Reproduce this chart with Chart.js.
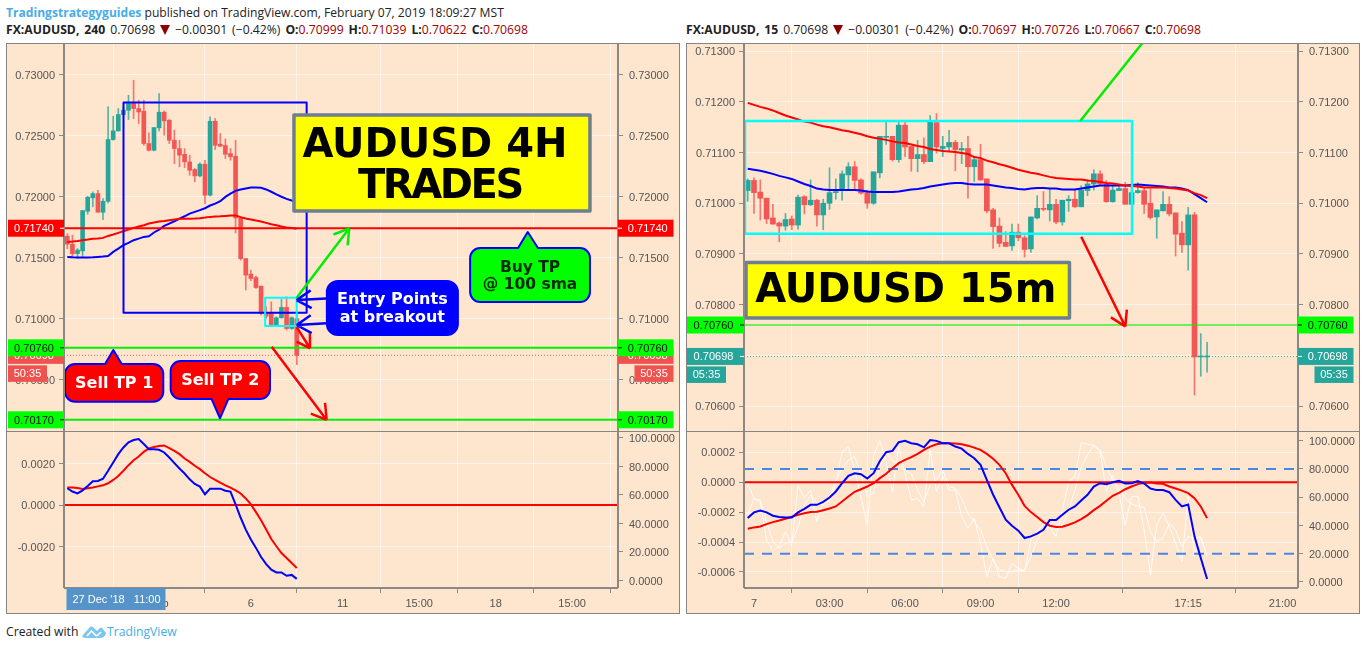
<!DOCTYPE html>
<html>
<head>
<meta charset="utf-8">
<title>AUDUSD trades</title>
<script src="https://cdn.jsdelivr.net/npm/chart.js@4/dist/chart.umd.min.js"></script>
<style>
  html, body { margin: 0; padding: 0; background: #fff; overflow: hidden; }
  body { width: 1366px; height: 650px; position: relative; font-family: 'Open Sans', sans-serif; font-size: 12px; color: #222; }
  .line { position: absolute; white-space: nowrap; height: 16px; line-height: 16px; }
  .quote { font-size: 12.2px; word-spacing: 1.8px; }
  .panel { position: absolute; top: 43px; width: 672px; height: 569px; background: #fde5ce; border: 1px solid #858585; }
  .split { position: absolute; left: 0; top: 387px; width: 672px; height: 1px; background: #858585; }
  canvas { position: absolute; left: 0; }
  .up { color: #a00000; }
  .tri { display: inline-block; width: 0; height: 0; border-left: 5.5px solid transparent; border-right: 5.5px solid transparent; border-top: 10px solid #8b0000; vertical-align: -1px; }
  b { font-weight: 700; }
  .brand { color: #48ade6; }
</style>
</head>
<body>
<div class="line" style="left:6px;top:5px;font-size:12.1px"><b class="brand">Tradingstrategyguides</b> published on TradingView.com, February 07, 2019 18:09:27 MST</div>
<div class="line quote" style="left:6px;top:22px"><b>FX:AUDUSD, 240</b>&nbsp;0.70698 <span class="tri"></span> −0.00301 (−0.42%) <b>O:</b><span class="up">0.70999</span> <b>H:</b><span class="up">0.71039</span> <b>L:</b><span class="up">0.70622</span> <b>C:</b><span class="up">0.70698</span></div>
<div class="line quote" style="left:686px;top:22px"><b>FX:AUDUSD, 15</b>&nbsp;0.70698 <span class="tri"></span> −0.00301 (−0.42%) <b>O:</b><span class="up">0.70697</span> <b>H:</b><span class="up">0.70726</span> <b>L:</b><span class="up">0.70667</span> <b>C:</b><span class="up">0.70698</span></div>

<div class="panel" style="left:6px">
  <canvas id="leftPrice" width="672" height="387" style="top:0"></canvas>
  <canvas id="leftOsc" width="672" height="182" style="top:387px"></canvas>
  <div class="split"></div>
</div>
<div class="panel" style="left:686px">
  <canvas id="rightPrice" width="672" height="387" style="top:0"></canvas>
  <canvas id="rightOsc" width="672" height="182" style="top:387px"></canvas>
  <div class="split"></div>
</div>

<div class="line" style="left:6px;top:624px;font-size:12.2px">Created with</div>
<svg style="position:absolute;left:82px;top:625px" width="24" height="14" viewBox="0 0 24 14">
  <path d="M0 11 L8 2 Q9.5 1 11 2 L15 6 L18 3 Q19 2 20 3 L24 8 L24 9 Q22 13 18 13 L5 13 Q1 13 0 11 Z" fill="#7cc7ee"/>
  <path d="M5 11 L9.5 6 L14 10.5 Q15 11 16 10 L19 7" fill="none" stroke="#fff" stroke-width="1.6"/>
</svg>
<div class="line brand" style="left:107px;top:624px;font-size:12.2px">TradingView</div>

<script>
const PEACH_GRID = 'rgba(255,255,255,0.55)';
const AXIS_GREY = '#8c8884';
const TICK_TEXT = '#555';
const UP = '#26a69a';
const DOWN = '#f25755';

// 4H candles
const leftOpen = [.71675,.71609,.71532,.71554,.71879,.71989,.72024,.71871,.71961,.72467,.72538,.72672,.72707,.72762,.72721,.72699,.72434,.72379,.72563,.72691,.72625,.72461,.72393,.72346,.72284,.72221,.72169,.72265,.72011,.72617,.72429,.72418,.72352,.72330,.71824,.71491,.71364,.71336,.71265,.71047,.71043,.70950,.71006,.71091,.70918,.70999];
const leftHigh = [.71696,.71683,.71573,.71885,.72002,.72038,.72051,.71983,.72735,.72658,.72721,.72735,.72830,.72953,.72789,.72789,.72521,.72565,.72844,.72702,.72631,.72543,.72461,.72393,.72339,.72229,.72276,.72297,.72653,.72639,.72516,.72472,.72393,.72461,.71830,.71491,.71396,.71347,.71265,.71096,.71136,.71014,.71158,.71178,.71014,.71039];
const leftLow = [.71573,.71506,.71492,.71506,.71855,.71915,.71871,.71811,.71948,.72461,.72535,.72666,.72631,.72639,.72598,.72420,.72373,.72373,.72538,.72502,.72434,.72270,.72243,.72237,.72175,.72120,.72161,.71942,.72002,.72385,.72412,.72311,.72297,.71702,.71478,.71233,.71310,.71246,.71030,.71000,.70950,.70936,.71001,.70905,.70910,.70622];
const leftClose = [.71609,.71532,.71561,.71885,.71994,.72024,.71871,.71961,.72467,.72538,.72672,.72707,.72762,.72721,.72693,.72434,.72379,.72565,.72691,.72620,.72461,.72393,.72339,.72284,.72215,.72169,.72265,.72011,.72617,.72420,.72412,.72346,.72325,.71824,.71491,.71356,.71328,.71254,.71043,.71019,.70950,.71006,.71091,.70918,.71006,.70698];
const leftMaBlue = [.71505,.71502,.71500,.71500,.71500,.71502,.71505,.71508,.71513,.71546,.71573,.71601,.71620,.71642,.71655,.71669,.71674,.71705,.71729,.71759,.71778,.71797,.71819,.71838,.71860,.71874,.71888,.71904,.71926,.71942,.71961,.71997,.72024,.72046,.72057,.72066,.72074,.72074,.72071,.72058,.72039,.72017,.71998,.71981,.71967,.71957];
const leftMaRed = [.71628,.71631,.71636,.71642,.71647,.71653,.71655,.71661,.71677,.71688,.71702,.71715,.71729,.71743,.71754,.71765,.71778,.71787,.71795,.71800,.71806,.71811,.71817,.71817,.71817,.71819,.71822,.71827,.71833,.71836,.71838,.71841,.71844,.71844,.71831,.71820,.71812,.71804,.71795,.71784,.71773,.71765,.71754,.71746,.71741,.71735];
const leftOscBlue = [.00081,.00065,.00056,.00071,.00092,.00115,.00116,.00127,.00165,.00205,.00245,.00277,.00302,.00313,.00318,.00294,.00269,.00269,.00266,.00253,.00229,.00202,.00176,.00152,.00124,.00102,.00089,.00052,.00079,.00079,.00079,.00069,.00065,.00003,-.00061,-.00118,-.00166,-.00206,-.00250,-.00284,-.00311,-.00324,-.00324,-.00340,-.00336,-.00355];
const leftOscRed = [.00084,.00084,.00082,.00077,.00081,.00085,.00090,.00095,.00105,.00121,.00140,.00165,.00192,.00216,.00234,.00256,.00273,.00279,.00284,.00287,.00274,.00261,.00245,.00224,.00208,.00189,.00173,.00153,.00135,.00121,.00108,.00095,.00084,.00071,.00056,.00032,.00003,-.00034,-.00073,-.00118,-.00163,-.00198,-.00231,-.00255,-.00279,-.00303];

// 15m candles
const rightOpen = [.71025,.71045,.71022,.71010,.70971,.70961,.70955,.70969,.70957,.71013,.70997,.71006,.70977,.71000,.71021,.71025,.71056,.71072,.71046,.71021,.71000,.71060,.71130,.71132,.71086,.71154,.71112,.71088,.71096,.71082,.71159,.71108,.71111,.71120,.71105,.71108,.71072,.71086,.71048,.70987,.70955,.70923,.70916,.70943,.70932,.70910,.70971,.70990,.70987,.70998,.70963,.71005,.71008,.70993,.71025,.71038,.71058,.71038,.71003,.71025,.71029,.70998,.71021,.71025,.71000,.70973,.70985,.70998,.70981,.70941,.70918,.70977,.70697,.70697];
const rightHigh = [.71048,.71050,.71046,.71010,.70998,.70963,.70980,.70975,.71016,.71015,.71046,.71008,.71008,.71070,.71048,.71064,.71080,.71082,.71048,.71026,.71062,.71132,.71160,.71132,.71160,.71160,.71112,.71124,.71129,.71173,.71177,.71132,.71144,.71124,.71120,.71132,.71091,.71116,.71048,.70990,.70971,.70944,.70959,.70959,.70936,.70973,.71015,.71023,.71028,.71008,.71006,.71015,.71026,.71035,.71046,.71066,.71064,.71045,.71035,.71035,.71041,.71038,.71041,.71030,.71028,.70987,.71023,.71013,.70981,.70964,.70992,.70982,.70743,.70726];
const rightLow = [.71004,.70980,.70967,.70960,.70959,.70924,.70947,.70948,.70949,.70979,.70995,.70955,.70948,.70988,.71008,.71006,.71025,.71026,.71018,.70990,.70998,.71050,.71116,.71083,.71081,.71092,.71063,.71062,.71078,.71082,.71099,.71092,.71103,.71064,.71078,.71010,.71043,.71045,.70981,.70911,.70914,.70914,.70907,.70926,.70894,.70903,.70969,.70985,.70965,.70960,.70957,.70984,.70992,.70993,.71015,.71026,.71035,.71002,.71002,.71025,.70998,.70998,.71020,.70980,.70969,.70931,.70985,.70975,.70896,.70903,.70868,.70622,.70659,.70667];
const rightClose = [.71045,.71021,.71010,.70969,.70959,.70955,.70968,.70957,.71012,.70997,.71006,.70977,.71000,.71021,.71023,.71058,.71072,.71045,.71020,.71000,.71062,.71132,.71132,.71086,.71154,.71111,.71088,.71096,.71082,.71161,.71111,.71112,.71120,.71106,.71108,.71072,.71086,.71046,.70985,.70954,.70921,.70915,.70943,.70932,.70909,.70973,.70990,.70988,.70998,.70963,.71006,.71008,.70993,.71026,.71038,.71058,.71038,.71003,.71026,.71029,.70998,.71021,.71025,.70998,.70972,.70987,.70998,.70979,.70939,.70918,.70977,.70697,.70699,.70698];
const rightMaRed = [.71198,.71194,.71190,.71187,.71183,.71178,.71173,.71169,.71165,.71161,.71159,.71155,.71152,.71150,.71147,.71144,.71142,.71139,.71136,.71132,.71129,.71127,.71125,.71122,.71120,.71119,.71116,.71113,.71111,.71107,.71105,.71103,.71102,.71101,.71099,.71097,.71091,.71089,.71084,.71081,.71077,.71074,.71070,.71066,.71063,.71060,.71058,.71055,.71052,.71050,.71049,.71048,.71047,.71047,.71045,.71044,.71042,.71040,.71039,.71037,.71035,.71034,.71033,.71031,.71031,.71031,.71031,.71030,.71029,.71027,.71025,.71020,.71016,.71010];
const rightMaBlue = [.71068,.71066,.71064,.71061,.71058,.71054,.71051,.71048,.71043,.71038,.71034,.71029,.71027,.71026,.71026,.71026,.71026,.71026,.71025,.71023,.71022,.71022,.71022,.71022,.71023,.71025,.71027,.71028,.71030,.71033,.71035,.71037,.71039,.71040,.71040,.71038,.71037,.71037,.71037,.71035,.71033,.71031,.71030,.71028,.71027,.71029,.71030,.71030,.71029,.71029,.71027,.71027,.71027,.71029,.71031,.71033,.71035,.71035,.71035,.71035,.71035,.71036,.71037,.71036,.71035,.71034,.71033,.71031,.71031,.71029,.71026,.71018,.71010,.71002];
const rightOscBlue = [-.000240,-.000202,-.000189,-.000202,-.000224,-.000233,-.000236,-.000236,-.000202,-.000178,-.000151,-.000151,-.000131,-.000102,-.000062,-.000007,.000042,.000060,.000053,.000024,.000060,.000142,.000200,.000209,.000267,.000276,.000260,.000253,.000233,.000282,.000276,.000260,.000260,.000238,.000224,.000189,.000160,.000116,.000016,-.000084,-.000167,-.000251,-.000291,-.000324,-.000373,-.000362,-.000344,-.000318,-.000253,-.000253,-.000218,-.000184,-.000162,-.000122,-.000084,-.000029,-.000007,-.000013,0,.000009,-.000009,-.000007,.000007,-.000009,-.000042,-.000053,-.000053,-.000067,-.000118,-.000162,-.000149,-.000362,-.000507,-.000647];
const rightOscRed = [-.000311,-.000302,-.000296,-.000280,-.000267,-.000256,-.000244,-.000231,-.000218,-.000207,-.000200,-.000198,-.000187,-.000176,-.000162,-.000129,-.000096,-.000064,-.000047,-.000029,-.000007,.000027,.000056,.000093,.000127,.000149,.000167,.000189,.000216,.000238,.000253,.000260,.000260,.000258,.000253,.000244,.000231,.000216,.000189,.000156,.000116,.000060,-.000018,-.000084,-.000158,-.000200,-.000233,-.000267,-.000291,-.000300,-.000298,-.000284,-.000269,-.000247,-.000220,-.000187,-.000158,-.000124,-.000091,-.000071,-.000047,-.000029,-.000013,-.000004,-.000002,-.000009,-.000011,-.000029,-.000042,-.000056,-.000073,-.000107,-.000162,-.000240];
const rightStochK = [70.3,59.2,56.8,29.7,22.2,25.0,35.6,26.2,68.6,59.2,65.1,42.7,56.8,56.8,69.8,92.2,95.7,79.2,60.4,40.3,89.8,100,85.1,63.9,95.7,76.9,58.0,59.2,53.3,93.4,63.9,74.5,65.1,65.1,46.2,38.0,45.0,27.4,3.8,16.7,3.8,2.6,13.2,9.7,7.3,29.7,35.6,41.5,39.1,32.1,50.9,71.0,74.5,98.6,97.6,96.9,92.2,63.9,75.7,62.7,40.3,60.4,60.8,36.8,5.0,40.3,49.0,39.1,27.4,14.4,60.4,18.4,31.6,18.4];
const rightStochD = [47.4,59.2,58.0,42.7,28.5,23.8,27.4,28.5,39.1,54.5,61.5,55.6,54.5,60.4,71.0,80.4,86.3,88.7,76.9,60.4,62.7,81.6,92.2,86.3,82.8,79.2,76.9,65.1,56.8,68.6,72.2,79.2,67.4,66.3,59.2,48.6,42.7,36.8,25.0,15.6,8.5,7.3,7.3,8.5,8.5,17.9,29.7,36.8,39.1,36.8,40.3,50.9,65.1,81.6,89.8,96.9,93.4,81.6,72.2,66.3,59.2,55.2,53.8,52.8,35.6,28.5,30.9,41.5,36.8,25.0,32.1,30.9,32.1,18.4];

// axes
const leftPriceTicks = [.73, .725, .72, .715, .71, .705];
const rightPriceTicks = [.713, .712, .711, .71, .709, .708, .707, .706];
const leftOscTicks = [.002, 0, -.002];
const rightOscTicks = [.0002, 0, -.0002, -.0004, -.0006];
const stochTicks = [100, 80, 60, 40, 20, 0];
const leftTimePos = [18, 36, 54, 69, 84, 99];
const leftTimeLabels = ['Feb', '6', '11', '15:00', '18', '15:00'];
const rightTimePos = [1, 13, 25, 37, 49, 70, 85];
const rightTimeLabels = ['7', '03:00', '06:00', '09:00', '12:00', '17:15', '21:00'];

// levels
const leftRedLevel = .7174;
const leftGreenLevels = [.7076, .7017];
const rightGreenLevel = .7076;
const lastPrice = .70698;
const oscZero = 0;
const stochBands = [80, 20];

// trader drawings, in bar index / price
const leftBoxes = [
  { x0: 11.02, x1: 46.94, top: .7277, bottom: .71047, stroke: '#0000ff' },
  { x0: 38.8, x1: 44.98, top: .7117, bottom: .70938, stroke: '#00ffff' },
];
const rightBoxes = [
  { x0: -.43, x1: 61.08, top: .71162, bottom: .7094, stroke: '#00ffff', width: 2.5 },
];
const leftArrows = [
  { x0: 44.98, y0: .7117, x1: 55.3, y1: .71739, color: '#00ee00' },
  { x0: 40.08, y0: .70769, x1: 50.86, y1: .70169, color: '#ff0000' },
  { x0: 44.98, y0: .7093, x1: 47.6, y1: .70756, color: '#ff0000', head: 15 },
  { x0: 50.86, y0: .71165, x1: 44.98, y1: .71151, color: '#0000ff' },
  { x0: 50.86, y0: .70961, x1: 44.98, y1: .70947, color: '#0000ff' },
];
const rightArrows = [
  { x0: 52.84, y0: .71162, x1: 62.73, y1: .71316, color: '#00ee00', head: 0 },
  { x0: 53.0, y0: .70934, x1: 60.0, y1: .70757, color: '#ff0000' },
];
const leftCallouts = [
  { x0: 44.45, x1: 102.5, top: .72668, bottom: .71881, fill: '#ffff00', stroke: '#6e7f8f', width: 3.5, radius: 0, lines: ['AUDUSD 4H', 'TRADES'], color: '#000', font: 'bold 40px "DejaVu Sans"', lead: 41, shift: [-7, -2], tracking: [0, -2.4], drop: 3 },
  { x0: 50.9, x1: 76.6, top: .71307, bottom: .70865, fill: '#0000ff', stroke: '#0000ff', width: 2, radius: 11, lines: ['Entry Points', 'at breakout'], color: '#fff', font: 'bold 16px "DejaVu Sans"', lead: 18 },
  { x0: 79.0, x1: 102.5, top: .71578, bottom: .71135, fill: '#00ff00', stroke: '#0000ff', width: 2, radius: 10, lines: ['Buy TP', '@ 100 sma'], color: '#002a00', font: 'bold 15.5px "DejaVu Sans"', lead: 17, tip: { x: 90.3, y: .71709, b0: 88.4, b1: 92.3 } },
  { x0: -.45, x1: 18.82, top: .70627, bottom: .70318, fill: '#ff0000', stroke: '#0000ff', width: 2, radius: 10, lines: ['Sell TP 1'], color: '#fff', font: 'bold 16px "DejaVu Sans"', lead: 18, tip: { x: 9.02, y: .70742, b0: 7.4, b1: 10.67 } },
  { x0: 20.27, x1: 39.75, top: .70651, bottom: .7034, fill: '#ff0000', stroke: '#0000ff', width: 2, radius: 10, lines: ['Sell TP 2'], color: '#fff', font: 'bold 16px "DejaVu Sans"', lead: 18, tip: { x: 29.94, y: .70182, b0: 28.3, b1: 31.57 } },
];
const rightCallouts = [
  { x0: -.27, x1: 51.13, top: .70883, bottom: .70774, fill: '#ffff00', stroke: '#6e7f8f', width: 3.5, radius: 0, lines: ['AUDUSD 15m'], color: '#000', font: 'bold 40px "DejaVu Sans"', lead: 46, shift: [-2] },
];

// axis tags, painted in list order
const leftTags = [
  { value: .70698, text: '0.70698', fill: '#ef5350', color: '#fff', clock: '50:35' },
  { value: .7174, text: '0.71740', fill: '#ff0000', color: '#fff' },
  { value: .7076, text: '0.70760', fill: '#00ff00', color: '#111' },
  { value: .7017, text: '0.70170', fill: '#00ff00', color: '#111' },
];
const rightTags = [
  { value: .70698, text: '0.70698', fill: '#26a69a', color: '#fff', clock: '05:35' },
  { value: .7076, text: '0.70760', fill: '#00ff00', color: '#111' },
];

const toPoints = (values) => values.map((y, x) => ({ x, y }));
const flatLine = (value, range) => [{ x: range[0], y: value }, { x: range[1], y: value }];

function candleSets(open, high, low, close, bodyWidth) {
  const colors = (alpha) => open.map((o, i) => (close[i] >= o ? UP : DOWN) + alpha);
  return [
    {
      type: 'bar',
      data: open.map((o, i) => ({ x: i, y: [low[i], high[i]] })),
      backgroundColor: colors('c8'),
      barThickness: 1,
      grouped: false,
      order: 5,
    },
    {
      type: 'bar',
      data: open.map((o, i) => ({ x: i, y: [Math.min(o, close[i]), Math.max(o, close[i])] })),
      backgroundColor: colors(''),
      barThickness: bodyWidth,
      minBarLength: 1,
      grouped: false,
      order: 4,
    },
  ];
}

function lineSet(data, color, width, extra) {
  return Object.assign({
    type: 'line',
    data,
    borderColor: color,
    borderWidth: width,
    pointRadius: 0,
    tension: 0,
    fill: false,
    order: 2,
  }, extra);
}

function tickedAxis(position, ticks, format, width, drawGrid) {
  return {
    type: 'linear',
    position,
    min: ticks.min,
    max: ticks.max,
    afterBuildTicks: (scale) => {
      scale.ticks = ticks.values.map((value) => ({ value }));
    },
    afterFit: (scale) => {
      scale.width = width;
      scale.paddingTop = 0;
      scale.paddingBottom = 0;
    },
    border: { display: false },
    grid: {
      color: PEACH_GRID,
      drawOnChartArea: drawGrid,
      tickColor: AXIS_GREY,
      tickLength: 5,
    },
    ticks: {
      autoSkip: false,
      padding: position === 'right' ? 6 : 4,
      labelOffset: 1,
      color: TICK_TEXT,
      font: { family: 'Liberation Sans', size: 11 },
      callback: format,
    },
  };
}

function timeAxis(range, positions, labels, showLabels) {
  return {
    type: 'linear',
    min: range[0],
    max: range[1],
    offset: false,
    afterBuildTicks: (scale) => {
      scale.ticks = positions.map((value) => ({ value }));
    },
    afterFit: (scale) => {
      scale.height = showLabels ? 25 : 0;
      scale.paddingLeft = 0;
      scale.paddingRight = 0;
    },
    border: { display: false },
    grid: { color: PEACH_GRID, tickColor: AXIS_GREY, tickLength: 5, drawTicks: showLabels },
    ticks: {
      display: showLabels,
      autoSkip: false,
      maxRotation: 0,
      padding: 4,
      color: TICK_TEXT,
      font: { family: 'Liberation Sans', size: 11 },
      callback: (value, index) => labels[index],
    },
  };
}

function drawBox(chart, box) {
  const { ctx, scales } = chart;
  ctx.strokeStyle = box.stroke;
  ctx.lineWidth = box.width || 2;
  ctx.strokeRect(
    scales.x.getPixelForValue(box.x0),
    scales.y.getPixelForValue(box.top),
    scales.x.getPixelForValue(box.x1) - scales.x.getPixelForValue(box.x0),
    scales.y.getPixelForValue(box.bottom) - scales.y.getPixelForValue(box.top)
  );
}

function drawArrow(chart, arrow) {
  const { ctx, scales } = chart;
  const x0 = scales.x.getPixelForValue(arrow.x0);
  const y0 = scales.y.getPixelForValue(arrow.y0);
  const x1 = scales.x.getPixelForValue(arrow.x1);
  const y1 = scales.y.getPixelForValue(arrow.y1);
  const angle = Math.atan2(y1 - y0, x1 - x0);
  const head = arrow.head === undefined ? 17 : arrow.head;
  ctx.strokeStyle = arrow.color;
  ctx.lineWidth = 2.5;
  ctx.beginPath();
  ctx.moveTo(x0, y0);
  ctx.lineTo(x1, y1);
  if (head) {
    [-0.55, 0.55].forEach((turn) => {
      ctx.moveTo(x1, y1);
      ctx.lineTo(x1 - head * Math.cos(angle + turn), y1 - head * Math.sin(angle + turn));
    });
  }
  ctx.stroke();
}

function drawCallout(chart, c) {
  const { ctx, scales } = chart;
  const l = scales.x.getPixelForValue(c.x0);
  const r = scales.x.getPixelForValue(c.x1);
  const t = scales.y.getPixelForValue(c.top);
  const b = scales.y.getPixelForValue(c.bottom);
  const rad = c.radius;
  const tip = c.tip && {
    x: scales.x.getPixelForValue(c.tip.x),
    y: scales.y.getPixelForValue(c.tip.y),
    b0: scales.x.getPixelForValue(c.tip.b0),
    b1: scales.x.getPixelForValue(c.tip.b1),
  };
  ctx.beginPath();
  ctx.moveTo(l + rad, t);
  if (tip && tip.y < t) {
    ctx.lineTo(tip.b0, t);
    ctx.lineTo(tip.x, tip.y);
    ctx.lineTo(tip.b1, t);
  }
  ctx.arcTo(r, t, r, b, rad);
  ctx.arcTo(r, b, l, b, rad);
  if (tip && tip.y > b) {
    ctx.lineTo(tip.b1, b);
    ctx.lineTo(tip.x, tip.y);
    ctx.lineTo(tip.b0, b);
  }
  ctx.arcTo(l, b, l, t, rad);
  ctx.arcTo(l, t, r, t, rad);
  ctx.closePath();
  ctx.fillStyle = c.fill;
  ctx.fill();
  ctx.strokeStyle = c.stroke;
  ctx.lineWidth = c.width;
  ctx.stroke();
  ctx.fillStyle = c.color;
  ctx.font = c.font;
  ctx.textAlign = 'center';
  ctx.textBaseline = 'middle';
  const startY = (t + b) / 2 - ((c.lines.length - 1) * c.lead) / 2 + 1 + (c.drop || 0);
  c.lines.forEach((line, i) => {
    ctx.letterSpacing = `${c.tracking ? c.tracking[i] : 0}px`;
    ctx.fillText(line, (l + r) / 2 + (c.shift ? c.shift[i] : 0), startY + i * c.lead);
  });
  ctx.letterSpacing = '0px';
}

function drawingsPlugin(boxes, arrows, callouts) {
  return {
    id: 'traderDrawings',
    afterDatasetsDraw(chart) {
      const { ctx, chartArea } = chart;
      ctx.save();
      ctx.beginPath();
      ctx.rect(chartArea.left, chartArea.top, chartArea.right - chartArea.left, chartArea.bottom - chartArea.top);
      ctx.clip();
      ctx.lineJoin = 'round';
      boxes.forEach((box) => drawBox(chart, box));
      arrows.forEach((arrow) => drawArrow(chart, arrow));
      callouts.forEach((callout) => drawCallout(chart, callout));
      ctx.restore();
    },
  };
}

function tagsPlugin(tags, leftWidth) {
  return {
    id: 'axisTags',
    afterDraw(chart) {
      const { ctx, chartArea, scales } = chart;
      ctx.save();
      ctx.font = '11px "Liberation Sans"';
      ctx.textBaseline = 'middle';
      ctx.textAlign = 'center';
      tags.forEach((tag) => {
        const y = scales.y.getPixelForValue(tag.value);
        [[chartArea.left - leftWidth, leftWidth], [chartArea.right, 55.5]].forEach(([x, w], side) => {
          ctx.fillStyle = tag.fill;
          ctx.fillRect(x, y - 8.5, w, 17);
          ctx.fillStyle = tag.color;
          ctx.fillText(tag.text, x + w / 2 + (side === 0 ? -2 : 2), y + 1);
          ctx.fillRect(side === 0 ? chartArea.left - 4 : chartArea.right, y - 0.5, 4, 1);
          if (tag.clock) {
            const cx = side === 0 ? x : x + w - 39;
            ctx.fillStyle = tag.fill;
            ctx.fillRect(cx, y + 10, 39, 16.5);
            ctx.fillStyle = tag.color;
            ctx.fillText(tag.clock, cx + 19.5, y + 18.5);
          }
        });
      });
      ctx.restore();
    },
  };
}

const frameLines = {
  id: 'frameLines',
  afterDraw(chart) {
    const { ctx, chartArea } = chart;
    ctx.save();
    ctx.strokeStyle = AXIS_GREY;
    ctx.lineWidth = 2;
    ctx.beginPath();
    ctx.moveTo(chartArea.left, chartArea.top);
    ctx.lineTo(chartArea.left, chartArea.bottom);
    ctx.moveTo(chartArea.right, chartArea.top);
    ctx.lineTo(chartArea.right, chartArea.bottom);
    if (chart.options.scales.x.ticks.display) {
      ctx.moveTo(chartArea.left, chartArea.bottom);
      ctx.lineTo(chartArea.right, chartArea.bottom);
    }
    ctx.stroke();
    ctx.restore();
  },
};

const crosshairDate = {
  id: 'crosshairDate',
  afterDraw(chart) {
    const { ctx, chartArea, scales } = chart;
    const center = scales.x.getPixelForValue(9.45);
    ctx.save();
    ctx.fillStyle = '#5593c9';
    ctx.fillRect(center - 49, chartArea.bottom, 99, 22);
    ctx.fillStyle = '#fff';
    ctx.font = '11px "Liberation Sans"';
    ctx.textAlign = 'center';
    ctx.textBaseline = 'middle';
    ctx.fillText("27 Dec '18   11:00", center + 1, chartArea.bottom + 12);
    ctx.restore();
  },
};

function buildChart(id, datasets, scales, plugins) {
  return new Chart(document.getElementById(id), {
    type: 'bar',
    data: { datasets },
    options: {
      responsive: false,
      animation: false,
      layout: { padding: 0 },
      plugins: { legend: { display: false }, tooltip: { enabled: false }, title: { display: false } },
      scales,
    },
    plugins,
  });
}

const leftRange = [-0.65, 108];
const rightRange = [-0.59, 87.45];
const price5 = (v) => v.toFixed(5);
const osc4 = (v) => v.toFixed(4);
const leftPriceAxis = { values: leftPriceTicks, min: .70078, max: .7325 };
const rightPriceAxis = { values: rightPriceTicks, min: .70551, max: .71314 };
const leftOscAxis = { values: leftOscTicks, min: -.00399, max: .003564 };
const rightOscAxis = { values: rightOscTicks, min: -.000707, max: .000342 };
const leftStochAxis = { values: stochTicks, min: -5.26, max: 104.9 };
const rightStochAxis = { values: stochTicks, min: -4.25, max: 106.9 };

buildChart('leftPrice', [
  ...candleSets(leftOpen, leftHigh, leftLow, leftClose, 4),
  lineSet(toPoints(leftMaRed), '#ff0000', 2),
  lineSet(toPoints(leftMaBlue), '#0000ff', 2),
  lineSet(flatLine(leftRedLevel, leftRange), '#ff0000', 2, { order: 1 }),
  lineSet(flatLine(lastPrice, leftRange), 'rgba(239,83,80,.9)', 1, { borderDash: [1, 2], order: 1 }),
  ...leftGreenLevels.map((level) => lineSet(flatLine(level, leftRange), '#00f000', 2, { order: 1 })),
], {
  x: timeAxis(leftRange, leftTimePos, leftTimeLabels, false),
  y: tickedAxis('left', leftPriceAxis, price5, 57, true),
  yR: tickedAxis('right', leftPriceAxis, price5, 61, false),
}, [frameLines, drawingsPlugin(leftBoxes, leftArrows, leftCallouts), tagsPlugin(leftTags, 56)]);

buildChart('leftOsc', [
  lineSet(flatLine(oscZero, leftRange), '#ff0000', 2, { order: 3 }),
  lineSet(toPoints(leftOscRed), '#ff0000', 2),
  lineSet(toPoints(leftOscBlue), '#0000ff', 2, { order: 1 }),
], {
  x: timeAxis(leftRange, leftTimePos, leftTimeLabels, true),
  y: tickedAxis('left', leftOscAxis, osc4, 57, true),
  yR: tickedAxis('right', leftStochAxis, osc4, 61, false),
}, [frameLines, crosshairDate]);

buildChart('rightPrice', [
  ...candleSets(rightOpen, rightHigh, rightLow, rightClose, 5),
  lineSet(toPoints(rightMaRed), '#ff0000', 2),
  lineSet(toPoints(rightMaBlue), '#0000ff', 2),
  lineSet(flatLine(rightGreenLevel, rightRange), 'rgba(0,240,0,.55)', 2, { order: 1 }),
  lineSet(flatLine(lastPrice, rightRange), 'rgba(38,166,154,.9)', 1, { borderDash: [1, 2], order: 1 }),
], {
  x: timeAxis(rightRange, rightTimePos, rightTimeLabels, false),
  y: tickedAxis('left', rightPriceAxis, price5, 57, true),
  yR: tickedAxis('right', rightPriceAxis, price5, 61, false),
}, [frameLines, drawingsPlugin(rightBoxes, rightArrows, rightCallouts), tagsPlugin(rightTags, 57)]);

buildChart('rightOsc', [
  lineSet(toPoints(rightStochK), 'rgba(255,255,255,.85)', 1, { yAxisID: 'yR', order: 6 }),
  lineSet(toPoints(rightStochD), 'rgba(255,255,255,.85)', 1, { yAxisID: 'yR', order: 6 }),
  ...stochBands.map((band) => lineSet(flatLine(band, rightRange), '#4a86e8', 2, { yAxisID: 'yR', borderDash: [10, 8], order: 5 })),
  lineSet(flatLine(oscZero, rightRange), '#ff0000', 2, { order: 3 }),
  lineSet(toPoints(rightOscRed), '#ff0000', 2),
  lineSet(toPoints(rightOscBlue), '#0000ff', 2, { order: 1 }),
], {
  x: timeAxis(rightRange, rightTimePos, rightTimeLabels, true),
  y: tickedAxis('left', rightOscAxis, osc4, 57, true),
  yR: tickedAxis('right', rightStochAxis, osc4, 61, false),
}, [frameLines]);
</script>
</body>
</html>
